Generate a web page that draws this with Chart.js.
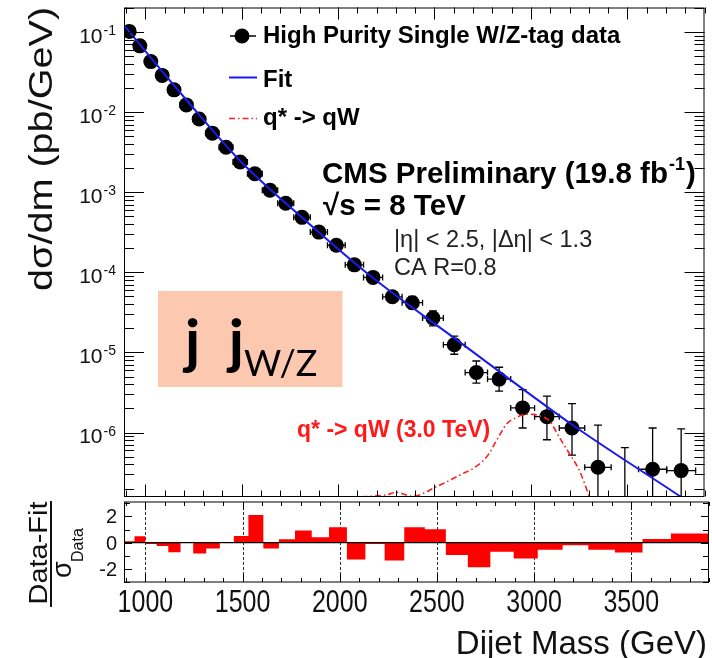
<!DOCTYPE html>
<html>
<head>
<meta charset="utf-8">
<script src="https://cdn.jsdelivr.net/npm/chart.js@4.4.1/dist/chart.umd.min.js"></script>
<style>
  html, body { margin: 0; padding: 0; background: #fff; }
  #wrap { position: relative; width: 712px; height: 658px; overflow: hidden; }
  canvas { position: absolute; left: 0; }
  #top { top: 0; }
  #ratio { top: 500px; }
</style>
</head>
<body>
<div id="wrap">
  <canvas id="top" width="712" height="504"></canvas>
  <canvas id="ratio" width="712" height="158"></canvas>
</div>
<script>
// dijet mass bins (GeV)
const binEdges = [890, 944, 1000, 1058, 1118, 1181, 1246, 1313, 1383, 1455, 1530, 1607, 1687, 1770, 1856, 1945,
  2037, 2132, 2231, 2332, 2438, 2546, 2659, 2775, 2895, 3019, 3147, 3279, 3416, 3558, 3704, 3854, 4010];

// dsigma/dm (pb/GeV), one per bin
const xsec = [0.102, 0.0673, 0.0428, 0.0288, 0.019, 0.01233, 0.00822, 0.00547, 0.00365, 0.00239, 0.0017,
  0.00106, 0.000728, 0.000486, 0.000318, 0.000218, 0.000124, 8.65e-5, 4.95e-5, 4.18e-5, 2.69e-5, 1.25e-5,
  5.61e-6, 4.65e-6, 2.03e-6, 1.58e-6, 1.14e-6, 3.68e-7, null, 3.48e-7, 3.35e-7, null];
const xsecHigh = [0.1025, 0.0677, 0.0431, 0.029, 0.0192, 0.01247, 0.00833, 0.00556, 0.00372, 0.00245, 0.00175,
  0.0011, 0.00076, 0.000512, 0.000338, 0.000234, 0.000135, 9.7e-5, 5.7e-5, 5.0e-5, 3.3e-5, 1.6e-5,
  7.82e-6, 6.53e-6, 3.44e-6, 2.85e-6, 2.29e-6, 1.24e-6, 6.49e-7, 1.14e-6, 1.11e-6, null];
const xsecLow = [0.1015, 0.0669, 0.0425, 0.0286, 0.0188, 0.01219, 0.00811, 0.00538, 0.00358, 0.00233, 0.00165,
  0.00102, 0.000696, 0.00046, 0.000298, 0.000202, 0.000113, 7.7e-5, 4.3e-5, 3.5e-5, 2.15e-5, 9.5e-6,
  4.15e-6, 3.28e-6, 1.14e-6, 8.13e-7, 5.21e-7, 0, 0, 0, 0, null];

// (data-fit)/sigma per bin
const pull = [0.1, 0.49, -0.1, -0.26, -0.74, 0, -0.82, -0.44, 0, 0.51, 2.1, -0.44, 0.26, 0.92, 0.41, 1.18,
  -1.28, -0.1, -1.36, 1.18, 1.03, -0.95, -1.88, -0.7, -1.2, -0.55, -0.2, -0.55, -0.75, 0.28, 0.7, 0.7];

// fit curve
const fitMass = [890, 917, 1214, 1493, 1813, 2175, 2603, 3214, 3778, 3850];
const fitXsec = [0.122, 0.1014, 0.01419, 0.00246, 4.83e-4, 8.73e-5, 1.51e-5, 1.25e-6, 1.57e-7, 1.2e-7];

// q* -> qW signal, 3.0 TeV
const qstarMass = [2051, 2257, 2300, 2385, 2514, 2651, 2702, 2771, 2822, 2874, 2925, 2976, 3045, 3096, 3147,
  3199, 3250, 3302, 3326];
const qstarXsec = [1.55e-7, 1.68e-7, 1.8e-7, 1.6e-7, 2.13e-7, 3.11e-7, 3.58e-7, 4.97e-7, 7.98e-7, 1.28e-6,
  1.54e-6, 1.7e-6, 1.62e-6, 1.4e-6, 8.75e-7, 5.47e-7, 3.41e-7, 1.6e-7, 1.1e-7];

const massTicks = [1000, 1500, 2000, 2500, 3000, 3500];
const decadeExp = [-1, -2, -3, -4, -5, -6];
const pullTicks = [-2, 0, 2];

const centers = xsec.map((_, i) => (binEdges[i] + binEdges[i + 1]) / 2);

Chart.defaults.font.family = 'Liberation Sans';

function text(ctx, s, x, y, font, color, align, sy) {
  ctx.save();
  ctx.font = font;
  ctx.fillStyle = color || '#000';
  ctx.textAlign = align || 'left';
  ctx.textBaseline = 'alphabetic';
  ctx.translate(x, y);
  ctx.scale(1, sy || 1);
  ctx.fillText(s, 0, 0);
  ctx.restore();
}

function seg(ctx, x0, y0, x1, y1) {
  ctx.beginPath();
  ctx.moveTo(x0, y0);
  ctx.lineTo(x1, y1);
  ctx.stroke();
}

const topDecor = {
  id: 'topDecor',
  beforeDatasetsDraw(chart) {
    const {ctx, chartArea: ca} = chart;
    const xs = chart.scales.x, ys = chart.scales.y;
    ctx.save();
    ctx.beginPath();
    ctx.rect(ca.left, ca.top, ca.right - ca.left, ca.bottom - ca.top);
    ctx.clip();
    ctx.strokeStyle = '#000';
    ctx.lineWidth = 1.3;
    centers.forEach((m, i) => {
      const px = xs.getPixelForValue(m);
      if (xsec[i] !== null) {
        const py = ys.getPixelForValue(xsec[i]);
        const x0 = xs.getPixelForValue(binEdges[i]);
        const x1 = xs.getPixelForValue(binEdges[i + 1]);
        seg(ctx, x0, py, x1, py);
        seg(ctx, x0, py - 3, x0, py + 3);
        seg(ctx, x1, py - 3, x1, py + 3);
      }
      if (xsecHigh[i] !== null) {
        const yHi = ys.getPixelForValue(xsecHigh[i]);
        const yLo = xsecLow[i] > 0 ? ys.getPixelForValue(xsecLow[i]) : ca.bottom;
        seg(ctx, px, yHi, px, yLo);
        seg(ctx, px - 4, yHi, px + 4, yHi);
        if (xsecLow[i] > 0) seg(ctx, px - 4, yLo, px + 4, yLo);
      }
    });
    ctx.restore();
  },
  afterDraw(chart) {
    const {ctx, chartArea: ca} = chart;
    const xs = chart.scales.x, ys = chart.scales.y;
    ctx.save();
    ctx.strokeStyle = '#000';
    ctx.lineWidth = 1;
    ctx.strokeRect(ca.left + 0.5, ca.top + 0.5, ca.right - ca.left - 1, ca.bottom - ca.top - 0.5);

    for (let m = 900; m <= 3900; m += 100) {
      const px = Math.round(xs.getPixelForValue(m)) + 0.5;
      const len = massTicks.includes(m) ? 12 : 6;
      seg(ctx, px, ca.top, px, ca.top + len);
      seg(ctx, px, ca.bottom, px, ca.bottom - len);
    }
    for (let e = -7; e <= -1; e++) {
      for (let k = 1; k <= 9; k++) {
        const v = k * Math.pow(10, e);
        if (v < ys.min || v > ys.max) continue;
        const py = Math.round(ys.getPixelForValue(v)) + 0.5;
        const len = k === 1 ? 20 : 10;
        seg(ctx, ca.left, py, ca.left + len, py);
        seg(ctx, ca.right, py, ca.right - len, py);
      }
    }

    // decade labels 10^n
    decadeExp.forEach(e => {
      const py = ys.getPixelForValue(Math.pow(10, e));
      ctx.font = '14px "Liberation Sans"';
      const w = ctx.measureText(String(e)).width;
      text(ctx, String(e), 116, py + 3, '14px "Liberation Sans"', '#111', 'right');
      text(ctx, '10', 115 - w, py + 10.5, '21px "Liberation Sans"', '#111', 'right');
    });

    // y title
    ctx.save();
    ctx.translate(52, 149);
    ctx.rotate(-Math.PI / 2);
    ctx.scale(1.2, 1);
    ctx.font = '33px "Liberation Sans"';
    ctx.fillStyle = '#111';
    ctx.textAlign = 'center';
    ctx.fillText('dσ/dm (pb/GeV)', 0, 0);
    ctx.restore();

    // legend
    ctx.lineWidth = 1.5;
    seg(ctx, 230, 36, 256, 36);
    ctx.fillStyle = '#000';
    ctx.beginPath();
    ctx.arc(242, 36, 7.5, 0, Math.PI * 2);
    ctx.fill();
    text(ctx, 'High Purity Single W/Z-tag data', 263, 43, 'bold 24px "Liberation Sans"');
    ctx.strokeStyle = '#1a1aee';
    ctx.lineWidth = 2;
    seg(ctx, 229, 77.5, 257, 77.5);
    text(ctx, 'Fit', 263, 86.5, 'bold 24px "Liberation Sans"');
    ctx.strokeStyle = '#ff2020';
    ctx.lineWidth = 1.6;
    ctx.setLineDash([6, 3, 1.5, 3]);
    seg(ctx, 229, 118.5, 257, 118.5);
    ctx.setLineDash([]);
    text(ctx, 'q* -> qW', 263, 125, 'bold 24px "Liberation Sans"');

    // labels
    const bf = 'bold 29.5px "Liberation Sans"';
    ctx.font = bf;
    const s1 = 'CMS Preliminary (19.8 fb';
    const w1 = ctx.measureText(s1).width;
    text(ctx, s1, 322, 182.5, bf);
    ctx.font = 'bold 18px "Liberation Sans"';
    const w2 = ctx.measureText('-1').width;
    text(ctx, '-1', 322 + w1 + 1, 170, 'bold 18px "Liberation Sans"');
    text(ctx, ')', 322 + w1 + w2 + 2, 182.5, bf);
    text(ctx, '√s = 8 TeV', 323, 215, bf);
    text(ctx, '|η| < 2.5, |Δη| < 1.3', 394, 246.7, '23.5px "Liberation Sans"', '#222');
    text(ctx, 'CA R=0.8', 394, 275, '23.5px "Liberation Sans"', '#222');
    text(ctx, 'q* -> qW (3.0 TeV)', 297, 437, 'bold 23px "Liberation Sans"', '#ff1a1a');

    // j j_W/Z box
    ctx.fillStyle = '#fdc8b0';
    ctx.fillRect(158, 291, 184.5, 96);
    ctx.save();
    ctx.font = 'bold 60px Lato';
    ctx.letterSpacing = '7px';
    ctx.fillStyle = '#000';
    ctx.fillText('j j', 185, 362);
    ctx.restore();
    text(ctx, 'W/Z', 244, 376, '36px Lato', '#000');
    ctx.restore();
  }
};

new Chart(document.getElementById('top'), {
  data: {
    datasets: [
      {
        type: 'scatter',
        label: 'High Purity Single W/Z-tag data',
        data: centers.map((m, i) => ({x: m, y: xsec[i]})),
        pointRadius: 7.5,
        pointBackgroundColor: '#000',
        pointBorderWidth: 0,
        order: 2
      },
      {
        type: 'line',
        label: 'Fit',
        data: fitMass.map((m, i) => ({x: m, y: fitXsec[i]})),
        borderColor: '#1a1aee',
        borderWidth: 2,
        pointRadius: 0,
        cubicInterpolationMode: 'monotone',
        order: 1
      },
      {
        type: 'line',
        label: 'q* -> qW',
        data: qstarMass.map((m, i) => ({x: m, y: qstarXsec[i]})),
        borderColor: '#ff2020',
        borderWidth: 1.6,
        borderDash: [6, 3, 1.5, 3],
        pointRadius: 0,
        cubicInterpolationMode: 'monotone',
        order: 0
      }
    ]
  },
  options: {
    responsive: false,
    animation: false,
    devicePixelRatio: 1,
    events: [],
    layout: {padding: {left: 0, top: 5, right: 3, bottom: 2}},
    plugins: {legend: {display: false}, tooltip: {enabled: false}},
    scales: {
      x: {type: 'linear', min: 890, max: 3900, display: false},
      y: {
        type: 'logarithmic', min: 1.59e-7, max: 0.2027,
        ticks: {display: false}, grid: {display: false}, border: {display: false},
        afterFit(s) { s.width = 124; }
      }
    }
  },
  plugins: [topDecor]
});

const ratioDecor = {
  id: 'ratioDecor',
  beforeDatasetsDraw(chart) {
    const {ctx, chartArea: ca} = chart;
    const xs = chart.scales.x;
    ctx.save();
    ctx.strokeStyle = '#333';
    ctx.lineWidth = 1;
    ctx.setLineDash([3, 2]);
    massTicks.forEach(m => {
      const px = Math.round(xs.getPixelForValue(m)) + 0.5;
      seg(ctx, px, ca.top, px, ca.bottom);
    });
    ctx.restore();
  },
  afterDatasetsDraw(chart) {
    const {ctx, chartArea: ca} = chart;
    const py = chart.scales.y.getPixelForValue(0);
    ctx.save();
    ctx.strokeStyle = '#000';
    ctx.lineWidth = 1.3;
    seg(ctx, ca.left, py, ca.right, py);
    ctx.restore();
  },
  afterDraw(chart) {
    const {ctx, chartArea: ca} = chart;
    const xs = chart.scales.x, ys = chart.scales.y;
    ctx.save();
    ctx.strokeStyle = '#000';
    ctx.lineWidth = 1;
    ctx.strokeRect(ca.left + 0.5, ca.top, ca.right - ca.left - 1, ca.bottom - ca.top);
    for (let m = 900; m <= 3900; m += 100) {
      const px = Math.round(xs.getPixelForValue(m)) + 0.5;
      const len = massTicks.includes(m) ? 8 : 4;
      seg(ctx, px, ca.top, px, ca.top + len);
      seg(ctx, px, ca.bottom, px, ca.bottom - len);
    }
    for (let v = -3; v <= 3; v++) {
      const py = Math.round(ys.getPixelForValue(v)) + 0.5;
      const len = pullTicks.includes(v) ? 8 : 6;
      seg(ctx, ca.left, py, ca.left + len, py);
      seg(ctx, ca.right, py, ca.right - len, py);
    }
    pullTicks.forEach(v => {
      text(ctx, String(v), 117, ys.getPixelForValue(v) + 7, '20px "Liberation Sans"', '#111', 'right');
    });
    massTicks.forEach(m => {
      text(ctx, String(m), xs.getPixelForValue(m), 112, '25px "Liberation Sans"', '#111', 'center', 1.25);
    });
    text(ctx, 'Dijet Mass (GeV)', 707, 154, '33px "Liberation Sans"', '#111', 'right');

    // (Data-Fit)/sigma_Data
    ctx.translate(51, 53);
    ctx.rotate(-Math.PI / 2);
    ctx.fillStyle = '#111';
    ctx.save();
    ctx.scale(1.16, 1);
    ctx.font = '25px "Liberation Sans"';
    ctx.textAlign = 'center';
    ctx.fillText('Data-Fit', 0, -4);
    ctx.restore();
    ctx.fillRect(-54, -1, 106, 2);
    ctx.font = '27px "Liberation Sans"';
    ctx.fillText('σ', -25, 20);
    ctx.font = '16px "Liberation Sans"';
    ctx.fillText('Data', -9, 32);
    ctx.restore();
  }
};

new Chart(document.getElementById('ratio'), {
  type: 'line',
  data: {
    datasets: [{
      label: 'pull',
      data: binEdges.map((e, i) => ({x: e, y: i < pull.length ? pull[i] : 0})),
      stepped: true,
      fill: {value: 0},
      backgroundColor: '#ff0000',
      borderColor: 'rgba(0,0,0,0)',
      borderWidth: 0,
      pointRadius: 0
    }]
  },
  options: {
    responsive: false,
    animation: false,
    devicePixelRatio: 1,
    events: [],
    layout: {padding: {left: 0, top: 2, right: 3, bottom: 0}},
    plugins: {legend: {display: false}, tooltip: {enabled: false}},
    scales: {
      x: {
        type: 'linear', min: 890, max: 3900,
        ticks: {display: false}, grid: {display: false}, border: {display: false},
        afterFit(s) { s.height = 76; }
      },
      y: {
        type: 'linear', min: -3, max: 3.1,
        ticks: {display: false}, grid: {display: false}, border: {display: false},
        afterFit(s) { s.width = 124; }
      }
    }
  },
  plugins: [ratioDecor]
});
</script>
</body>
</html>
